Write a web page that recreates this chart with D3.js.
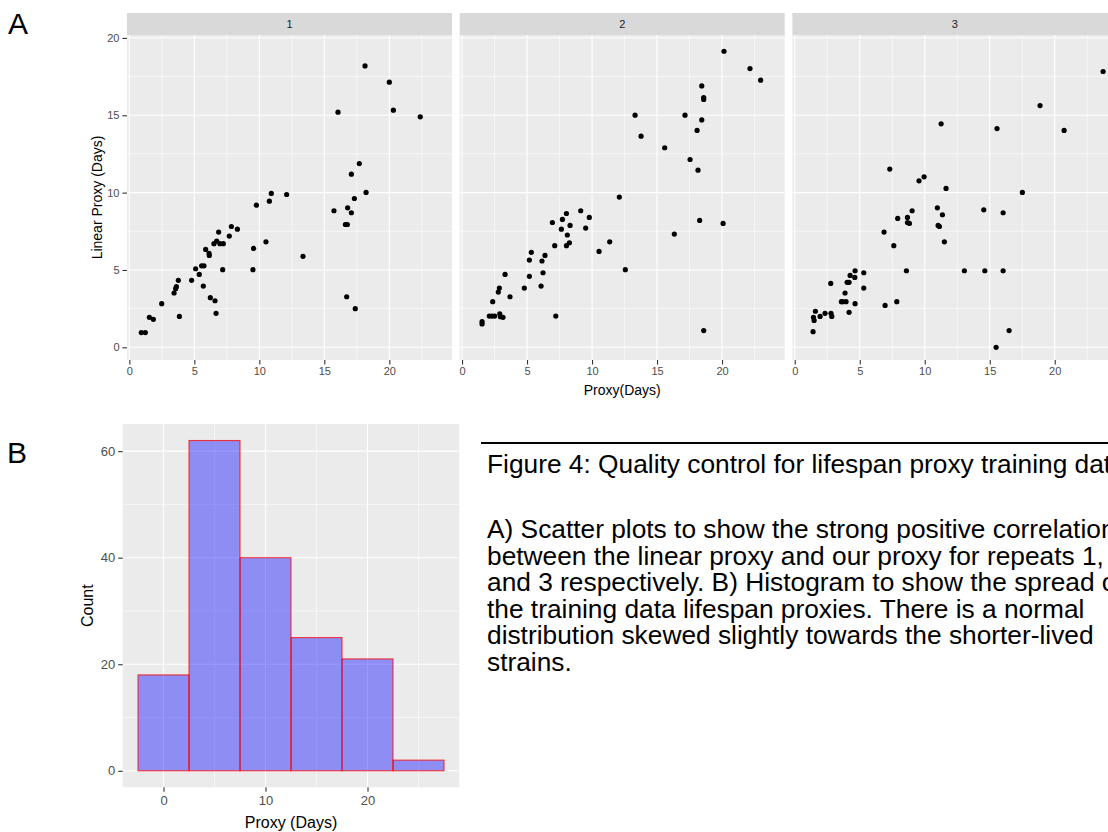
<!DOCTYPE html>
<html>
<head>
<meta charset="utf-8">
<script src="https://cdn.jsdelivr.net/npm/d3@7"></script>
<style>
  body { margin: 0; background: #fff; }
  svg { display: block; font-family: "Liberation Sans", Arial, sans-serif; }
</style>
</head>
<body>
<svg id="fig" width="1108" height="832"></svg>
<script>
// scatter data: [our proxy, linear proxy] per repeat
const repeat1 = [
  [0.92, 0.95], [1.23, 0.95], [1.54, 1.94], [1.85, 1.81], [2.49, 2.82],
  [3.44, 3.51], [3.56, 3.79], [3.62, 3.92], [3.77, 4.33], [3.85, 2.0],
  [4.79, 4.33], [5.10, 5.08], [5.38, 4.71], [5.56, 5.27], [5.74, 5.27],
  [5.69, 3.96], [5.87, 6.33], [6.13, 6.07], [6.15, 5.94], [6.23, 3.21],
  [6.59, 3.01], [6.67, 2.20], [6.51, 6.70], [6.72, 6.87], [6.87, 7.45],
  [6.97, 6.70], [7.23, 6.70], [7.18, 5.02], [7.69, 7.19], [7.85, 7.81],
  [8.31, 7.64], [9.51, 5.02], [9.56, 6.39], [9.77, 9.19], [10.51, 6.82],
  [10.77, 9.45], [10.92, 9.95], [12.10, 9.88], [13.36, 5.88], [15.74, 8.83],
  [16.05, 15.20], [16.62, 7.94], [16.77, 7.94], [16.79, 9.02], [16.72, 3.27],
  [17.08, 11.19], [17.08, 8.70], [17.31, 9.62], [17.38, 2.50], [17.69, 11.88],
  [18.13, 18.19], [18.21, 10.01], [20.0, 17.14], [20.31, 15.33], [22.38, 14.90]
];
const repeat2 = [
  [1.54, 1.66], [1.54, 1.51], [2.10, 2.02], [2.31, 2.02], [2.51, 2.02],
  [2.90, 2.17], [2.95, 1.98], [3.15, 1.94], [2.36, 2.95], [2.79, 3.57],
  [2.87, 3.83], [3.31, 4.71], [3.69, 3.27], [4.79, 3.83], [5.18, 4.59],
  [5.18, 5.64], [5.33, 6.14], [6.08, 3.96], [6.15, 5.58], [6.23, 4.82],
  [6.38, 5.94], [6.95, 8.07], [7.13, 6.57], [7.21, 2.02], [7.64, 7.64],
  [7.72, 8.27], [8.03, 8.65], [8.10, 7.26], [8.31, 7.88], [8.03, 6.57],
  [8.26, 6.76], [9.13, 8.83], [9.51, 7.71], [9.79, 8.40], [10.54, 6.20],
  [11.36, 6.82], [12.10, 9.71], [12.56, 5.02], [13.31, 15.01], [13.77, 13.65],
  [15.59, 12.90], [16.33, 7.32], [17.15, 15.01], [17.54, 12.14], [18.08, 14.02],
  [18.15, 11.45], [18.28, 8.20], [18.44, 16.90], [18.44, 14.70], [18.59, 16.15],
  [18.59, 16.02], [18.59, 1.08], [20.08, 8.01], [20.15, 19.14], [22.15, 18.02],
  [22.97, 17.27]
];
const repeat3 = [
  [1.41, 1.01], [1.44, 1.94], [1.49, 1.74], [1.59, 2.33], [1.95, 2.00],
  [2.33, 2.20], [2.79, 2.20], [2.85, 2.00], [2.77, 4.13], [3.59, 2.95],
  [3.69, 2.95], [3.95, 2.95], [3.87, 3.51], [4.18, 2.26], [4.03, 4.20],
  [4.18, 4.20], [4.26, 4.65], [4.62, 4.52], [4.64, 2.82], [4.64, 4.95],
  [5.31, 4.82], [5.31, 3.83], [6.87, 7.45], [6.95, 2.71], [7.31, 11.52],
  [7.62, 6.57], [7.85, 2.95], [7.92, 8.33], [8.59, 4.95], [8.67, 8.40],
  [8.67, 8.07], [8.82, 8.01], [9.03, 8.83], [9.56, 10.76], [9.95, 11.02],
  [10.97, 9.02], [11.03, 7.88], [11.13, 7.81], [11.26, 14.45], [11.36, 8.57],
  [11.51, 6.82], [11.64, 10.27], [13.05, 4.95], [14.54, 8.89], [14.62, 4.95],
  [15.49, 0.0], [15.56, 14.14], [16.03, 8.70], [16.03, 4.95], [16.49, 1.08],
  [17.51, 10.01], [18.87, 15.63], [20.72, 14.02], [23.72, 17.83]
];
const repeatNames = ["1", "2", "3"];

// histogram
const binCentres = [0, 5, 10, 15, 20, 25];
const binCounts = [18, 62, 40, 25, 21, 2];
const binWidth = 5;

const captionTitle = "Figure 4: Quality control for lifespan proxy training data";
const captionLines = [
  "A) Scatter plots to show the strong positive correlation",
  "between the linear proxy and our proxy for repeats 1, 2",
  "and 3 respectively. B) Histogram to show the spread of",
  "the training data lifespan proxies. There is a normal",
  "distribution skewed slightly towards the shorter-lived",
  "strains."
];

const svg = d3.select("#fig");
const panelBg = "#ebebeb", stripBg = "#d9d9d9", tickCol = "#4d4d4d";

// ---------- A: faceted scatter ----------
const pw = 325, ptop = 35, pbot = 360, stripTop = 13;
const lefts = [127, 459.7, 792.4];
const y = d3.scaleLinear().domain([-0.82, 20.19]).range([pbot, ptop]);

svg.append("text").attr("x", 8).attr("y", 34).attr("font-size", 30).text("A");

[repeat1, repeat2, repeat3].forEach((data, i) => {
  const x = d3.scaleLinear().domain([-0.18, 24.82]).range([lefts[i], lefts[i] + pw]);
  const g = svg.append("g");

  g.append("rect").attr("x", lefts[i]).attr("y", ptop).attr("width", pw)
    .attr("height", pbot - ptop).attr("fill", panelBg);
  g.append("rect").attr("x", lefts[i]).attr("y", stripTop).attr("width", pw)
    .attr("height", ptop - stripTop).attr("fill", stripBg);
  g.append("text").attr("x", lefts[i] + pw / 2).attr("y", 28)
    .attr("text-anchor", "middle").attr("font-size", 11).attr("fill", "#1a1a1a")
    .text(repeatNames[i]);

  // minor grid
  g.selectAll(".vminor").data([2.5, 7.5, 12.5, 17.5, 22.5]).enter().append("line")
    .attr("x1", d => x(d)).attr("x2", d => x(d)).attr("y1", ptop).attr("y2", pbot)
    .attr("stroke", "#fff").attr("stroke-width", 0.55);
  g.selectAll(".hminor").data([2.5, 7.5, 12.5, 17.5]).enter().append("line")
    .attr("y1", d => y(d)).attr("y2", d => y(d)).attr("x1", lefts[i]).attr("x2", lefts[i] + pw)
    .attr("stroke", "#fff").attr("stroke-width", 0.55);
  // major grid
  g.selectAll(".vmajor").data([0, 5, 10, 15, 20]).enter().append("line")
    .attr("x1", d => x(d)).attr("x2", d => x(d)).attr("y1", ptop).attr("y2", pbot)
    .attr("stroke", "#fff").attr("stroke-width", 1.1);
  g.selectAll(".hmajor").data([0, 5, 10, 15, 20]).enter().append("line")
    .attr("y1", d => y(d)).attr("y2", d => y(d)).attr("x1", lefts[i]).attr("x2", lefts[i] + pw)
    .attr("stroke", "#fff").attr("stroke-width", 1.1);

  g.selectAll("circle").data(data).enter().append("circle")
    .attr("cx", d => x(d[0])).attr("cy", d => y(d[1])).attr("r", 2.6).attr("fill", "#000");

  const xAxis = g.append("g").attr("transform", `translate(0,${pbot})`)
    .call(d3.axisBottom(x).tickValues([0, 5, 10, 15, 20]).tickSize(4.5).tickPadding(3));
  xAxis.select(".domain").remove();
  xAxis.selectAll("line").attr("stroke", "#333").attr("stroke-width", 1.1);
  xAxis.selectAll("text").attr("font-size", 11).attr("fill", tickCol).attr("font-family", null);

  if (i === 0) {
    const yAxis = g.append("g").attr("transform", `translate(${lefts[0]},0)`)
      .call(d3.axisLeft(y).tickValues([0, 5, 10, 15, 20]).tickSize(4.5).tickPadding(3));
    yAxis.select(".domain").remove();
    yAxis.selectAll("line").attr("stroke", "#333").attr("stroke-width", 1.1);
    yAxis.selectAll("text").attr("font-size", 11).attr("fill", tickCol).attr("font-family", null);
  }
});

svg.append("text").attr("x", (lefts[0] + lefts[2] + pw) / 2).attr("y", 395)
  .attr("text-anchor", "middle").attr("font-size", 14).text("Proxy(Days)");
svg.append("text").attr("transform", `translate(102,${(ptop + pbot) / 2}) rotate(-90)`)
  .attr("text-anchor", "middle").attr("font-size", 14).text("Linear Proxy (Days)");

// ---------- B: histogram ----------
const hx0 = 122.7, hx1 = 459.3, hy0 = 424, hy1 = 787.3;
const hx = d3.scaleLinear().domain([-4, 29]).range([hx0, hx1]);
const hy = d3.scaleLinear().domain([-3.1, 65.1]).range([hy1, hy0]);

svg.append("text").attr("x", 7).attr("y", 463).attr("font-size", 30).text("B");

const hg = svg.append("g");
hg.append("rect").attr("x", hx0).attr("y", hy0).attr("width", hx1 - hx0)
  .attr("height", hy1 - hy0).attr("fill", panelBg);
hg.selectAll(".vminor").data([-5, 5, 15, 25]).enter().append("line")
  .attr("x1", d => hx(d)).attr("x2", d => hx(d)).attr("y1", hy0).attr("y2", hy1)
  .attr("stroke", "#fff").attr("stroke-width", 0.55);
hg.selectAll(".hminor").data([10, 30, 50]).enter().append("line")
  .attr("y1", d => hy(d)).attr("y2", d => hy(d)).attr("x1", hx0).attr("x2", hx1)
  .attr("stroke", "#fff").attr("stroke-width", 0.55);
hg.selectAll(".vmajor").data([0, 10, 20]).enter().append("line")
  .attr("x1", d => hx(d)).attr("x2", d => hx(d)).attr("y1", hy0).attr("y2", hy1)
  .attr("stroke", "#fff").attr("stroke-width", 1.1);
hg.selectAll(".hmajor").data([0, 20, 40, 60]).enter().append("line")
  .attr("y1", d => hy(d)).attr("y2", d => hy(d)).attr("x1", hx0).attr("x2", hx1)
  .attr("stroke", "#fff").attr("stroke-width", 1.1);

hg.selectAll(".bar").data(binCentres).enter().append("rect")
  .attr("x", d => hx(d - binWidth / 2))
  .attr("width", d => hx(d + binWidth / 2) - hx(d - binWidth / 2))
  .attr("y", (d, i) => hy(binCounts[i]))
  .attr("height", (d, i) => hy(0) - hy(binCounts[i]))
  .attr("fill", "blue").attr("fill-opacity", 0.4)
  .attr("stroke", "red").attr("stroke-opacity", 0.75).attr("stroke-width", 1.1);

const hxAxis = hg.append("g").attr("transform", `translate(0,${hy1})`)
  .call(d3.axisBottom(hx).tickValues([0, 10, 20]).tickSize(4.5).tickPadding(4));
hxAxis.select(".domain").remove();
hxAxis.selectAll("line").attr("stroke", "#333").attr("stroke-width", 1.1);
hxAxis.selectAll("text").attr("font-size", 13).attr("fill", tickCol).attr("font-family", null);

const hyAxis = hg.append("g").attr("transform", `translate(${hx0},0)`)
  .call(d3.axisLeft(hy).tickValues([0, 20, 40, 60]).tickSize(4.5).tickPadding(3));
hyAxis.select(".domain").remove();
hyAxis.selectAll("line").attr("stroke", "#333").attr("stroke-width", 1.1);
hyAxis.selectAll("text").attr("font-size", 13).attr("fill", tickCol).attr("font-family", null);

svg.append("text").attr("x", (hx0 + hx1) / 2).attr("y", 828)
  .attr("text-anchor", "middle").attr("font-size", 16).text("Proxy (Days)");
svg.append("text").attr("transform", `translate(93,${(hy0 + hy1) / 2}) rotate(-90)`)
  .attr("text-anchor", "middle").attr("font-size", 16).text("Count");

// ---------- caption ----------
svg.append("line").attr("x1", 481).attr("x2", 1108).attr("y1", 443).attr("y2", 443)
  .attr("stroke", "#000").attr("stroke-width", 2);
svg.append("text").attr("x", 487).attr("y", 473).attr("font-size", 26.3).text(captionTitle);
svg.selectAll(".cap").data(captionLines).enter().append("text")
  .attr("x", 487).attr("y", (d, i) => 538 + i * 26.6).attr("font-size", 26.3).text(d => d);
</script>
</body>
</html>
